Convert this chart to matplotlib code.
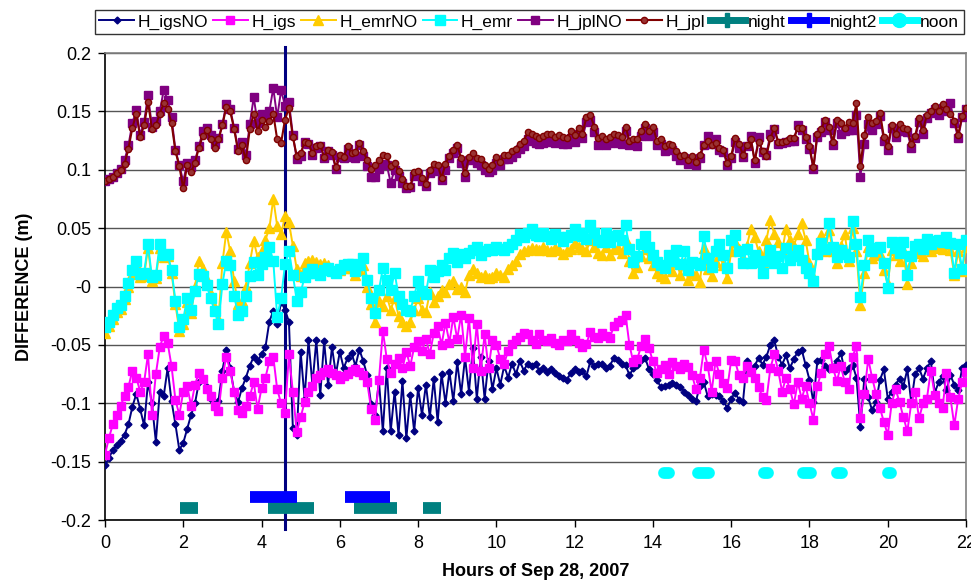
import numpy as np
import matplotlib.pyplot as plt
from matplotlib.lines import Line2D
from matplotlib.ticker import FuncFormatter

plt.rcParams['font.family'] = ['Liberation Sans', 'DejaVu Sans']
plt.rcParams['axes.unicode_minus'] = False

# time axis, one sample every 0.1 hour (0 .. 22 h)
hours = np.round(np.arange(0, 221) * 0.1, 1)

h_igsno = [
    -0.153, -0.147, -0.140, -0.136, -0.132, -0.127, -0.118, -0.103, -0.092, -0.105,
    -0.119, -0.082, -0.100, -0.133, -0.090, -0.094, -0.070, -0.098, -0.118, -0.140,
    -0.134, -0.122, -0.110, -0.100, -0.082, -0.079, -0.086, -0.096, -0.100, -0.098,
    -0.072, -0.054, -0.070, -0.090, -0.099, -0.087, -0.078, -0.068, -0.060, -0.064,
    -0.058, -0.052, -0.030, -0.021, -0.032, -0.013, -0.020, -0.030, -0.121, -0.127,
    -0.056, -0.096, -0.046, -0.084, -0.046, -0.093, -0.047, -0.084, -0.052, -0.075,
    -0.056, -0.070, -0.061, -0.057, -0.068, -0.054, -0.064, -0.076, -0.101, -0.110,
    -0.081, -0.124, -0.070, -0.124, -0.090, -0.127, -0.081, -0.130, -0.093, -0.124,
    -0.087, -0.110, -0.084, -0.112, -0.079, -0.116, -0.075, -0.100, -0.073, -0.098,
    -0.065, -0.092, -0.061, -0.090, -0.053, -0.096, -0.060, -0.096, -0.064, -0.088,
    -0.070, -0.084, -0.068, -0.078, -0.066, -0.075, -0.064, -0.072, -0.066, -0.068,
    -0.066, -0.072, -0.070, -0.073, -0.071, -0.074, -0.077, -0.078, -0.080, -0.074,
    -0.071, -0.073, -0.072, -0.077, -0.064, -0.068, -0.066, -0.066, -0.070, -0.068,
    -0.061, -0.063, -0.066, -0.067, -0.076, -0.070, -0.067, -0.063, -0.061, -0.071,
    -0.075, -0.080, -0.086, -0.085, -0.084, -0.083, -0.084, -0.086, -0.090, -0.093,
    -0.096, -0.098, -0.085, -0.082, -0.094, -0.092, -0.093, -0.094, -0.098, -0.104,
    -0.096, -0.091, -0.097, -0.099, -0.064, -0.073, -0.068, -0.061, -0.067, -0.060,
    -0.050, -0.046, -0.060, -0.067, -0.059, -0.070, -0.062, -0.056, -0.054, -0.067,
    -0.080, -0.099, -0.064, -0.063, -0.068, -0.071, -0.069, -0.064, -0.057, -0.072,
    -0.070, -0.067, -0.078, -0.120, -0.079, -0.095, -0.106, -0.099, -0.080, -0.071,
    -0.096, -0.090, -0.084, -0.079, -0.085, -0.071, -0.099, -0.075, -0.070, -0.079,
    -0.070, -0.064, -0.091, -0.082, -0.077, -0.089, -0.076, -0.084, -0.089, -0.070,
    -0.067,
]
# the single outlier excursion of H_igsNO at 4.6 h
spike_hours = [4.6, 4.6]
spike_values = [0.205, -0.208]

h_igs = [
    -0.144, -0.130, -0.118, -0.110, -0.102, -0.094, -0.086, -0.072, -0.078, -0.090,
    -0.082, -0.058, -0.110, -0.075, -0.052, -0.042, -0.048, -0.068, -0.097, -0.110,
    -0.090, -0.085, -0.102, -0.084, -0.074, -0.079, -0.088, -0.094, -0.102, -0.107,
    -0.078, -0.060, -0.072, -0.090, -0.106, -0.108, -0.102, -0.094, -0.082, -0.105,
    -0.087, -0.078, -0.064, -0.060, -0.088, -0.100, -0.108, -0.058, -0.090, -0.125,
    -0.112, -0.099, -0.090, -0.085, -0.078, -0.076, -0.073, -0.071, -0.074, -0.076,
    -0.079, -0.077, -0.075, -0.072, -0.071, -0.073, -0.076, -0.082, -0.105, -0.114,
    -0.080, -0.038, -0.062, -0.074, -0.066, -0.061, -0.070, -0.056, -0.068, -0.052,
    -0.047, -0.055, -0.045, -0.058, -0.040, -0.034, -0.050, -0.031, -0.048, -0.026,
    -0.045, -0.024, -0.060, -0.027, -0.070, -0.032, -0.072, -0.041, -0.070, -0.046,
    -0.050, -0.062, -0.066, -0.055, -0.049, -0.046, -0.043, -0.040, -0.041, -0.046,
    -0.049, -0.041, -0.046, -0.047, -0.044, -0.048, -0.050, -0.046, -0.047, -0.041,
    -0.046, -0.048, -0.052, -0.049, -0.039, -0.043, -0.044, -0.040, -0.042, -0.044,
    -0.034, -0.030, -0.029, -0.024, -0.050, -0.065, -0.062, -0.051, -0.045, -0.053,
    -0.064, -0.074, -0.071, -0.067, -0.075, -0.065, -0.068, -0.071, -0.066, -0.069,
    -0.076, -0.088, -0.078, -0.054, -0.068, -0.090, -0.064, -0.075, -0.083, -0.087,
    -0.063, -0.064, -0.076, -0.078, -0.068, -0.073, -0.078, -0.086, -0.095, -0.097,
    -0.070, -0.058, -0.072, -0.090, -0.078, -0.088, -0.101, -0.082, -0.096, -0.085,
    -0.100, -0.114, -0.085, -0.074, -0.058, -0.051, -0.070, -0.081, -0.068, -0.082,
    -0.088, -0.060, -0.051, -0.113, -0.092, -0.062, -0.078, -0.092, -0.104, -0.116,
    -0.127, -0.100, -0.088, -0.099, -0.112, -0.124, -0.100, -0.090, -0.113, -0.100,
    -0.096, -0.072, -0.093, -0.100, -0.104, -0.074, -0.095, -0.119, -0.096, -0.082,
    -0.073,
]

h_emrno = [
    -0.040, -0.034, -0.028, -0.022, -0.019, -0.011, 0.000, 0.011, 0.019, 0.008,
    0.009, 0.033, 0.005, 0.007, 0.033, 0.025, 0.026, 0.012, -0.015, -0.038,
    -0.032, -0.013, -0.023, 0.000, 0.022, 0.015, 0.006, -0.006, -0.018, -0.028,
    0.020, 0.047, 0.030, 0.005, -0.015, -0.012, 0.000, 0.020, 0.039, 0.025,
    0.030, 0.040, 0.050, 0.075, 0.052, 0.045, 0.060, 0.055, 0.035, 0.015,
    0.009, 0.020, 0.022, 0.023, 0.021, 0.019, 0.020, 0.018, 0.015, 0.013,
    0.014, 0.016, 0.017, 0.016, 0.010, 0.014, 0.018, 0.000, -0.015, -0.030,
    -0.012, -0.017, -0.008, -0.020, -0.010, -0.025, -0.030, -0.034, -0.030, -0.020,
    -0.010, -0.020, -0.022, -0.005, -0.013, -0.008, -0.003, -0.005, 0.002, 0.005,
    -0.002, 0.000, -0.005, 0.010, 0.015, 0.012, 0.008, 0.010, 0.007, 0.008,
    0.012, 0.010, 0.008, 0.015, 0.018, 0.022, 0.028, 0.030, 0.031, 0.033,
    0.032, 0.031, 0.034, 0.031, 0.030, 0.033, 0.031, 0.028, 0.030, 0.032,
    0.037, 0.034, 0.032, 0.030, 0.040, 0.034, 0.029, 0.027, 0.034, 0.027,
    0.032, 0.033, 0.029, 0.040, 0.022, 0.012, 0.017, 0.026, 0.032, 0.024,
    0.018, 0.012, 0.009, 0.007, 0.017, 0.013, 0.021, 0.010, 0.020, 0.006,
    0.012, 0.010, 0.004, 0.033, 0.015, 0.009, 0.021, 0.027, 0.018, 0.007,
    0.030, 0.038, 0.032, 0.024, 0.035, 0.049, 0.042, 0.030, 0.020, 0.040,
    0.057, 0.045, 0.038, 0.030, 0.049, 0.040, 0.035, 0.045, 0.054, 0.040,
    0.020, 0.008, 0.030, 0.044, 0.030, 0.048, 0.030, 0.020, 0.035, 0.045,
    0.022, 0.050, 0.030, -0.016, 0.012, 0.034, 0.024, 0.027, 0.028, 0.014,
    0.002, 0.031, 0.027, 0.022, 0.031, 0.002, 0.020, 0.029, 0.030, 0.026,
    0.035, 0.030, 0.033, 0.034, 0.032, 0.036, 0.031, 0.010, 0.030, 0.013,
    0.034,
]

h_emr = [
    -0.035, -0.030, -0.024, -0.018, -0.016, -0.008, 0.003, 0.014, 0.022, 0.011,
    0.012, 0.036, 0.008, 0.010, 0.036, 0.027, 0.028, 0.014, -0.012, -0.035,
    -0.028, -0.010, -0.020, -0.004, 0.011, 0.009, 0.001, -0.010, -0.021, -0.032,
    0.002, 0.022, 0.018, -0.008, -0.024, -0.021, -0.008, 0.009, 0.021, 0.010,
    0.019, 0.025, 0.034, 0.022, -0.026, -0.010, 0.019, 0.030, 0.010, -0.012,
    -0.005, 0.008, 0.012, 0.015, 0.012, 0.010, 0.014, 0.016, 0.013, 0.012,
    0.015, 0.018, 0.019, 0.019, 0.013, 0.018, 0.024, 0.006, -0.010, -0.023,
    -0.003, 0.016, 0.006, -0.003, 0.012, -0.008, -0.015, -0.020, -0.021, -0.008,
    0.005, -0.004, -0.006, 0.014, 0.008, 0.013, 0.018, 0.014, 0.024, 0.029,
    0.021, 0.028, 0.024, 0.029, 0.031, 0.034, 0.027, 0.030, 0.032, 0.031,
    0.034, 0.032, 0.031, 0.034, 0.036, 0.040, 0.045, 0.042, 0.046, 0.049,
    0.044, 0.043, 0.046, 0.043, 0.041, 0.045, 0.042, 0.039, 0.042, 0.044,
    0.049, 0.046, 0.043, 0.041, 0.053, 0.046, 0.040, 0.038, 0.046, 0.038,
    0.043, 0.044, 0.040, 0.053, 0.032, 0.021, 0.026, 0.036, 0.043, 0.034,
    0.027, 0.021, 0.018, 0.016, 0.027, 0.022, 0.031, 0.019, 0.030, 0.014,
    0.021, 0.020, 0.018, 0.043, 0.024, 0.017, 0.030, 0.036, 0.027, 0.016,
    0.040, 0.044, 0.030, 0.020, 0.032, 0.020, 0.027, 0.021, 0.012, 0.022,
    0.031, 0.020, 0.026, 0.016, 0.033, 0.023, 0.026, 0.031, 0.023, 0.016,
    0.012, 0.005, 0.028, 0.037, 0.032, 0.054, 0.034, 0.025, 0.031, 0.028,
    0.025, 0.056, 0.036, -0.009, 0.018, 0.040, 0.030, 0.033, 0.034, 0.020,
    -0.001, 0.038, 0.033, 0.029, 0.038, 0.010, 0.026, 0.035, 0.036, 0.032,
    0.041, 0.036, 0.039, 0.040, 0.038, 0.042, 0.037, 0.012, 0.036, 0.015,
    0.040,
]

h_jplno = [
    0.090, 0.092, 0.094, 0.097, 0.101, 0.108, 0.121, 0.140, 0.151, 0.130,
    0.141, 0.164, 0.137, 0.142, 0.150, 0.168, 0.160, 0.145, 0.117, 0.104,
    0.090, 0.106, 0.102, 0.108, 0.120, 0.133, 0.136, 0.130, 0.122, 0.127,
    0.139, 0.156, 0.152, 0.136, 0.118, 0.124, 0.113, 0.139, 0.162, 0.140,
    0.148, 0.146, 0.150, 0.170, 0.145, 0.168, 0.155, 0.158, 0.130, 0.109,
    0.112, 0.124, 0.122, 0.113, 0.119, 0.120, 0.110, 0.116, 0.113, 0.101,
    0.111, 0.110, 0.118, 0.111, 0.110, 0.121, 0.112, 0.103, 0.094, 0.094,
    0.101, 0.105, 0.104, 0.089, 0.100, 0.095, 0.089, 0.084, 0.085, 0.095,
    0.096, 0.090, 0.086, 0.097, 0.099, 0.100, 0.091, 0.100, 0.110, 0.114,
    0.119, 0.106, 0.094, 0.108, 0.109, 0.106, 0.104, 0.100, 0.098, 0.100,
    0.106, 0.104, 0.109, 0.109, 0.111, 0.114, 0.118, 0.120, 0.126, 0.125,
    0.123, 0.122, 0.123, 0.125, 0.124, 0.123, 0.124, 0.122, 0.122, 0.127,
    0.124, 0.131, 0.127, 0.141, 0.143, 0.132, 0.121, 0.123, 0.121, 0.123,
    0.126, 0.123, 0.122, 0.133, 0.121, 0.122, 0.120, 0.129, 0.136, 0.129,
    0.132, 0.121, 0.122, 0.116, 0.118, 0.117, 0.112, 0.108, 0.110, 0.105,
    0.109, 0.104, 0.110, 0.121, 0.129, 0.122, 0.126, 0.117, 0.115, 0.104,
    0.110, 0.124, 0.119, 0.111, 0.120, 0.129, 0.106, 0.128, 0.115, 0.113,
    0.131, 0.135, 0.122, 0.123, 0.124, 0.125, 0.125, 0.138, 0.134, 0.126,
    0.118, 0.101, 0.128, 0.132, 0.141, 0.134, 0.121, 0.140, 0.131, 0.133,
    0.134, 0.134, 0.147, 0.094, 0.122, 0.139, 0.134, 0.139, 0.146, 0.125,
    0.117, 0.136, 0.128, 0.134, 0.133, 0.132, 0.119, 0.127, 0.141, 0.131,
    0.144, 0.149, 0.152, 0.147, 0.153, 0.150, 0.157, 0.140, 0.127, 0.145,
    0.152,
]

h_jpl = [
    0.090, 0.092, 0.094, 0.097, 0.100, 0.105, 0.118, 0.136, 0.148, 0.128,
    0.138, 0.158, 0.135, 0.138, 0.148, 0.157, 0.152, 0.140, 0.116, 0.103,
    0.084, 0.104, 0.098, 0.106, 0.119, 0.129, 0.134, 0.126, 0.119, 0.126,
    0.138, 0.154, 0.150, 0.135, 0.116, 0.121, 0.108, 0.135, 0.148, 0.133,
    0.143, 0.137, 0.142, 0.148, 0.126, 0.123, 0.143, 0.153, 0.128, 0.112,
    0.114, 0.124, 0.123, 0.114, 0.120, 0.121, 0.111, 0.117, 0.115, 0.102,
    0.113, 0.111, 0.120, 0.114, 0.115, 0.123, 0.116, 0.108, 0.101, 0.104,
    0.108, 0.113, 0.112, 0.103, 0.106, 0.099, 0.092, 0.086, 0.086, 0.098,
    0.099, 0.093, 0.088, 0.100, 0.105, 0.104, 0.093, 0.105, 0.112, 0.117,
    0.121, 0.110, 0.097, 0.111, 0.114, 0.110, 0.109, 0.104, 0.101, 0.104,
    0.111, 0.107, 0.113, 0.113, 0.116, 0.118, 0.122, 0.125, 0.132, 0.131,
    0.129, 0.127, 0.129, 0.131, 0.131, 0.128, 0.130, 0.128, 0.127, 0.133,
    0.130, 0.136, 0.131, 0.145, 0.147, 0.137, 0.127, 0.129, 0.126, 0.128,
    0.131, 0.130, 0.128, 0.137, 0.125, 0.126, 0.126, 0.133, 0.139, 0.133,
    0.137, 0.125, 0.126, 0.120, 0.122, 0.121, 0.116, 0.112, 0.113, 0.108,
    0.112, 0.107, 0.113, 0.121, 0.125, 0.121, 0.123, 0.119, 0.117, 0.106,
    0.112, 0.127, 0.122, 0.113, 0.121, 0.126, 0.108, 0.124, 0.116, 0.112,
    0.127, 0.136, 0.124, 0.124, 0.125, 0.127, 0.127, 0.136, 0.136, 0.128,
    0.120, 0.102, 0.131, 0.135, 0.143, 0.137, 0.124, 0.143, 0.140, 0.136,
    0.141, 0.140, 0.157, 0.103, 0.130, 0.145, 0.140, 0.142, 0.149, 0.128,
    0.120, 0.138, 0.131, 0.139, 0.136, 0.135, 0.122, 0.129, 0.144, 0.134,
    0.147, 0.150, 0.155, 0.150, 0.156, 0.152, 0.148, 0.142, 0.130, 0.146,
    0.153,
]

# night / night2 / noon periods (start, end in hours)
night_periods = [(1.92, 2.37), (4.16, 5.33), (6.35, 7.45), (8.12, 8.58)]
night_level = -0.19
night2_periods = [(3.70, 4.90), (6.13, 7.28)]
night2_level = -0.18
noon_periods = [(14.28, 14.41), (15.14, 15.43), (16.84, 16.95), (17.84, 18.03),
                (18.71, 18.82), (20.01, 20.09)]
noon_level = -0.16

fig = plt.figure(figsize=(9.71, 5.87), dpi=100)
ax = fig.add_axes([0.1081, 0.1141, 0.8868, 0.7956])

ax.plot(hours, h_igsno, color='#000080', lw=1.4, marker='D', ms=3.5, label='H_igsNO', zorder=3)
ax.plot(spike_hours, spike_values, color='#000080', lw=2.2, clip_on=False, zorder=3)
ax.plot(hours, h_igs, color='#FF00FF', lw=1.4, marker='s', ms=6, mec='#FF00FF', label='H_igs', zorder=3)
ax.plot(hours, h_emrno, color='#FFCC00', lw=1.4, marker='^', ms=6.5, mec='#FFCC00', label='H_emrNO', zorder=3)
ax.plot(hours, h_emr, color='#00FFFF', lw=1.4, marker='s', ms=7, mec='#00FFFF', label='H_emr', zorder=3)
ax.plot(hours, h_jplno, color='#800080', lw=1.4, marker='s', ms=5.5, mec='#800080', label='H_jplNO', zorder=3)
ax.plot(hours, h_jpl, color='#800000', lw=1.5, marker='o', ms=4.5, mfc='#993333', mec='#800000', label='H_jpl', zorder=3)

for s, e in night_periods:
    ax.plot([s, e], [night_level, night_level], color='#008080', lw=8.5, solid_capstyle='butt', zorder=4)
for s, e in night2_periods:
    ax.plot([s, e], [night2_level, night2_level], color='#0000FF', lw=8.5, solid_capstyle='butt', zorder=4)
for s, e in noon_periods:
    ax.plot([s, e], [noon_level, noon_level], color='#00FFFF', lw=8.5, solid_capstyle='round', zorder=4)

ax.set_xlim(0, 22)
ax.set_ylim(-0.2, 0.2)
ax.set_xticks(np.arange(0, 23, 2))
ax.set_yticks(np.round(np.arange(-0.2, 0.201, 0.05), 2))
ax.yaxis.set_major_formatter(FuncFormatter(lambda v, p: '%g' % round(v, 2)))
ax.tick_params(axis='both', direction='out', length=5, width=1, labelsize=13, pad=5)
ax.tick_params(axis='x', pad=6)

ax.grid(axis='y', color='#555555', lw=1)
ax.set_axisbelow(True)
for side in ['left', 'bottom']:
    ax.spines[side].set_color('black')
    ax.spines[side].set_linewidth(1.2)
for side in ['top', 'right']:
    ax.spines[side].set_color('#808080')
    ax.spines[side].set_linewidth(1.2)

ax.set_xlabel('Hours of Sep 28, 2007', fontsize=13, fontweight='bold', labelpad=8)
ax.set_ylabel('DIFFERENCE (m)', fontsize=13, fontweight='bold', labelpad=12)

handles, labels = ax.get_legend_handles_labels()
handles += [
    Line2D([], [], color='#008080', lw=5, marker='P', ms=10),
    Line2D([], [], color='#0000FF', lw=5, marker='P', ms=10),
    Line2D([], [], color='#00FFFF', lw=5, marker='o', ms=10),
]
labels += ['night', 'night2', 'noon']
fig.legend(handles, labels, loc='center', bbox_to_anchor=(0.545, 0.9625), ncol=9,
           fontsize=12.5, frameon=True, fancybox=False, edgecolor='black',
           handlelength=2.0, handletextpad=0.2, columnspacing=0.3,
           borderpad=0.25, borderaxespad=0)

fig.savefig('out.png', dpi=100)
